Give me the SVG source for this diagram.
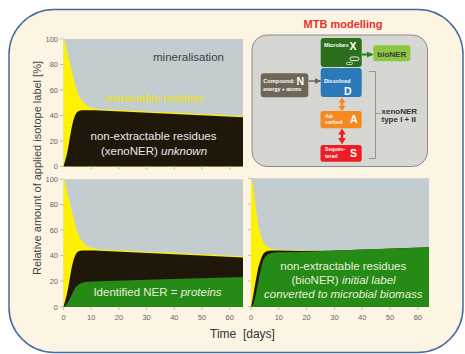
<svg xmlns="http://www.w3.org/2000/svg" width="465" height="354" viewBox="0 0 465 354">
<defs>
<style>
text{font-family:"Liberation Sans",Arial,sans-serif}
.tick{font-size:7.5px;fill:#666}
.tk{stroke:#b0b0b0;stroke-width:0.8}
.gray{fill:#c3cdd0}
.yel{fill:#fff200}
.blk{fill:#1f1709}
.grn{fill:#268a17}
.lbl{font-size:11.5px;text-anchor:middle}
.bx{font-size:5.6px;font-weight:bold;fill:#fff}
.big{font-size:10.5px;font-weight:bold;fill:#fff}
</style>
<marker id="ahG" viewBox="0 0 10 10" refX="9" refY="5" markerWidth="3.2" markerHeight="3.2" orient="auto"><path d="M0,0L10,5L0,10Z" fill="#2e7d1e"/></marker>
<marker id="ahN" viewBox="0 0 10 10" refX="9" refY="5" markerWidth="4" markerHeight="4" orient="auto"><path d="M0,0L10,5L0,10Z" fill="#6e6657"/></marker>
<path id="totTL" d="M63.5,39 L64.3,40.5 65.2,43 66.3,47 67.3,52 68.3,56.7 69.5,61.5 70.8,66.5 72,71.5 73.3,76.7 75,83.5 76.7,90 78.3,94.5 80,97.8 81.7,100.2 83.5,102.3 85.5,104.2 88.3,106.2 91.5,107.7 95,108.6 98.3,109.1 105,109.5 243,116 L243,166.5 L63.5,166.5 Z"/>
<path id="blkTL" d="M63.5,166.5 L64.3,163.5 65.3,160 66.7,155 68.3,147 70,137 71.7,127.5 73.3,120.5 75,115.5 76.7,112.5 78.5,111 81.7,110.3 88.3,110.2 95,110.2 105,110.7 243,117.2 L243,166.5 Z"/>
</defs>
<rect x="0" y="0" width="465" height="354" fill="#ffffff"/>
<rect id="panel" x="9" y="9.5" width="454" height="343" rx="45" ry="45" fill="#fdf5e3" stroke="#46699b" stroke-width="1.5"/>

<!-- Top-left chart -->
<g id="chart-top-left">
<rect class="gray" x="63.5" y="39" width="179.5" height="127.5"/>
<use href="#totTL" class="yel"/>
<use href="#blkTL" class="blk"/>
<text class="lbl" x="188.5" y="60.5" fill="#404040">mineralisation</text>
<text class="lbl" x="155" y="102" fill="#f0e400" style="font-size:11px">extractable residues</text>
<text class="lbl" x="153.5" y="140" fill="#e8e8e8">non-extractable residues</text>
<text class="lbl" x="154" y="155" fill="#e8e8e8">(xenoNER) <tspan font-style="italic">unknown</tspan></text>
</g>

<!-- Bottom-left chart -->
<g id="chart-bottom-left">
<rect class="gray" x="63.5" y="179.2" width="179.5" height="127.5"/>
<g transform="translate(0,140.2)">
<use href="#totTL" class="yel"/>
<use href="#blkTL" class="blk"/>
</g>
<path class="grn" d="M63.5,306.7 L65,306 67.5,303 70,298.3 72.5,293 75,288.3 77.5,285.5 80,283.6 84,282.3 88.3,281.7 105,281 243,277 L243,306.7 Z"/>
<text class="lbl" x="157.5" y="296" fill="#e6f0d8">Identified NER = <tspan font-style="italic">proteins</tspan></text>
</g>

<!-- Bottom-right chart -->
<g id="chart-bottom-right">
<rect class="gray" x="251" y="178.3" width="178" height="128.4"/>
<path class="yel" d="M251,178.3 L252.2,182 253.3,187.5 254.2,194 255,201.7 256.7,214 258.3,225 260,232.8 261.7,238.2 263.3,242 265,244.8 267.5,247 270,248.3 274,249.3 278.3,249.8 290,250.3 300,250.5 329,250.8 429,247.3 L429,306.7 L251,306.7 Z"/>
<path class="blk" d="M251,306.7 L252.2,301 253.3,295 255,285 256.7,275.5 258.3,267.5 260,261.7 261.7,257 263.3,253.8 265.5,251.8 268.3,250.8 272,250.5 278.3,250.6 300,251.1 329,250.8 429,247.3 L429,306.7 Z"/>
<path class="grn" d="M251.5,306.7 L253.5,303.5 255,298.3 256.7,290 258.3,281.7 260,273 261.7,265.5 263.3,260.2 265,257 267.5,254.6 270,253.4 274,252.6 278.3,252.2 300,251.9 329,250.8 429,247.3 L429,306.7 Z"/>
<text class="lbl" x="343.3" y="269.5" fill="#e6f0d8">non-extractable residues</text>
<text class="lbl" x="343.5" y="284" fill="#e6f0d8">(bioNER) <tspan font-style="italic">initial label</tspan></text>
<text class="lbl" x="343.3" y="298" fill="#e6f0d8" font-style="italic">converted to microbial biomass</text>
</g>

<!-- Axes -->
<g id="axes">
<g class="tk">
<path d="M60,39H63.5M60,64.5H63.5M60,90H63.5M60,115.5H63.5M60,141H63.5M60,166.5H63.5"/>
<path d="M60,179.2H63.5M60,204.6H63.5M60,230.1H63.5M60,255.6H63.5M60,281.2H63.5M60,306.7H63.5"/>
<path d="M248,178.3H251M248,204H251M248,229.7H251M248,255.4H251M248,281H251M248,306.7H251"/>
<path d="M91.2,166.5V169.5M118.9,166.5V169.5M146.6,166.5V169.5M174.3,166.5V169.5M202,166.5V169.5M229.7,166.5V169.5"/>
<path d="M63.5,306.7V310M91.2,306.7V310M118.9,306.7V310M146.6,306.7V310M174.3,306.7V310M202,306.7V310M229.7,306.7V310"/>
<path d="M251,306.7V310M278.8,306.7V310M306.6,306.7V310M334.4,306.7V310M362.2,306.7V310M390,306.7V310M417.8,306.7V310"/>
</g>
<g class="tick" text-anchor="middle">
<text x="63.5" y="320">0</text><text x="91.2" y="320">10</text><text x="118.9" y="320">20</text><text x="146.6" y="320">30</text><text x="174.3" y="320">40</text><text x="202" y="320">50</text><text x="229.7" y="320">60</text>
<text x="251" y="320">0</text><text x="278.8" y="320">10</text><text x="306.6" y="320">20</text><text x="334.4" y="320">30</text><text x="362.2" y="320">40</text><text x="390" y="320">50</text><text x="417.8" y="320">60</text>
</g>
<g class="tick" text-anchor="end">
<text x="58" y="41.8">100</text><text x="58" y="67.3">80</text><text x="58" y="92.8">60</text><text x="58" y="118.3">40</text><text x="58" y="143.8">20</text><text x="58" y="169.3">0</text>
<text x="58" y="182">100</text><text x="58" y="207.4">80</text><text x="58" y="232.9">60</text><text x="58" y="258.4">40</text><text x="58" y="284">20</text><text x="58" y="309.5">0</text>
</g>
<text x="242.5" y="337.5" text-anchor="middle" font-size="12" fill="#333" style="white-space:pre">Time  [days]</text>
<text transform="translate(40.5,168) rotate(-90)" text-anchor="middle" font-size="11" fill="#444">Relative amount of applied isotope label [%]</text>
</g>

<!-- MTB modelling -->
<text x="343" y="28" text-anchor="middle" font-size="11" font-weight="bold" fill="#e8302a">MTB modelling</text>
<rect id="mtb-panel" x="252" y="35" width="175.5" height="131.5" rx="15" fill="#d6d7d3" stroke="#8c8c8c" stroke-width="1"/>

<g id="connectors">
<line x1="362" y1="54.5" x2="372.5" y2="54.5" stroke="#2e7d1e" stroke-width="2" marker-end="url(#ahG)"/>
<line x1="308.5" y1="81" x2="320.5" y2="81" stroke="#6e6657" stroke-width="1.5" marker-end="url(#ahN)"/>
<path d="M342,57.5L345.5,62.5L343.2,62.5L343.2,69.5L345.5,69.5L342,74.5L338.5,69.5L340.8,69.5L340.8,62.5L338.5,62.5Z" fill="#ffffff"/>
<path d="M342,97.5L345.5,102.5L343.2,102.5L343.2,106L345.5,106L342,111L338.5,106L340.8,106L340.8,102.5L338.5,102.5Z" fill="#f7871f"/>
<path d="M342,128.5L345.8,134.5L343.2,134.5L343.2,138L345.8,138L342,144.5L338.2,138L340.8,138L340.8,134.5L338.2,134.5Z" fill="#ee1d23"/>
<path d="M369,71.5H375.5V158.5H369M375.5,113.5H380" fill="none" stroke="#8c8c8c" stroke-width="0.9"/>
</g>

<g id="microbes">
<rect x="320.7" y="38" width="41" height="29" rx="3" fill="#2b6f1c"/>
<text class="bx" x="324" y="47">Microbes</text>
<text class="big" x="349.5" y="50">X</text>
<rect x="350" y="57" width="9" height="3.6" rx="1.8" fill="none" stroke="#ffffff" stroke-width="0.9"/>
<rect x="346.5" y="62.3" width="6" height="2.2" rx="1.1" fill="none" stroke="#ffffff" stroke-width="0.7"/>
</g>
<g id="dissolved">
<rect x="320.7" y="68" width="41" height="29" rx="3" fill="#2b79b8"/>
<text class="bx" x="324" y="82.5">Dissolved</text>
<text class="big" x="344" y="94.5">D</text>
</g>
<g id="compound">
<rect x="260.7" y="73.3" width="47.6" height="24" rx="3" fill="#6e6657"/>
<text class="bx" x="263.3" y="83.3">Compound:</text>
<text class="big" x="296.5" y="84.5">N</text>
<text class="bx" x="263.3" y="91" style="font-size:5.2px">energy + atoms</text>
</g>
<g id="adsorbed">
<rect x="320.5" y="111" width="41.2" height="17.3" rx="2.5" fill="#f7871f"/>
<text class="bx" x="325" y="117.7" style="font-size:5.2px">Ad-</text>
<text class="bx" x="325" y="124.3" style="font-size:5.2px">sorbed</text>
<text class="big" x="350" y="122.5">A</text>
</g>
<g id="sequestered">
<rect x="320.5" y="145" width="41.2" height="16.7" rx="2.5" fill="#ee1d23"/>
<text class="bx" x="325" y="151.2" style="font-size:5.2px">Seques-</text>
<text class="bx" x="325" y="157.8" style="font-size:5.2px">tered</text>
<text class="big" x="350" y="157">S</text>
</g>
<g id="bioner">
<rect x="373.3" y="45.3" width="37" height="16" rx="2.5" fill="#8dc641"/>
<text x="391.8" y="56.5" text-anchor="middle" font-size="8" font-weight="bold" fill="#3a3a3a">bioNER</text>
</g>
<g id="xenoner-label">
<text x="381.5" y="113.5" font-size="8" font-weight="bold" fill="#333">xenoNER</text>
<text x="381.5" y="122" font-size="8" font-weight="bold" fill="#333">type I + II</text>
</g>
</svg>
